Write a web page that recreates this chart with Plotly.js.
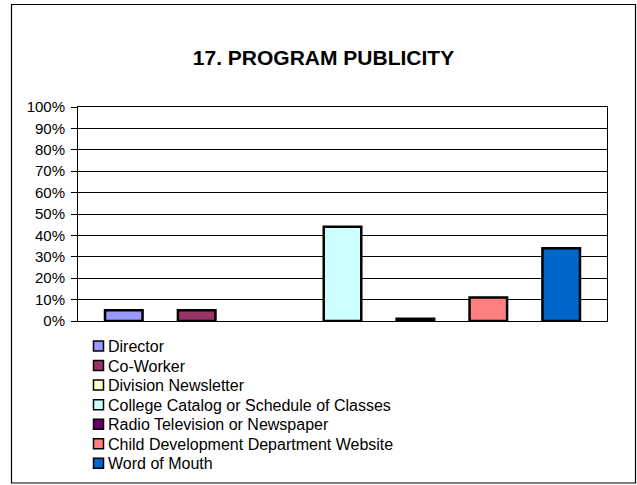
<!DOCTYPE html>
<html>
<head>
<meta charset="utf-8">
<script src="https://cdn.plot.ly/plotly-3.0.1.min.js"></script>
<style>
  html, body { margin: 0; padding: 0; background: #ffffff; }
  #chart { width: 637px; height: 485px; }
</style>
</head>
<body>
<div id="chart"></div>
<script>
// ---- data ----
const categories = [
  "Director",
  "Co-Worker",
  "Division Newsletter",
  "College Catalog or Schedule of Classes",
  "Radio Television or Newspaper",
  "Child Development Department Website",
  "Word of Mouth"
];
const values = [0.05, 0.05, 0.00, 0.44, 0.01, 0.11, 0.34];
const colors = ["#9999FF", "#993366", "#FFFFCC", "#CCFFFF", "#660066", "#FF8080", "#0066CC"];
const tickValues = [0, 0.1, 0.2, 0.3, 0.4, 0.5, 0.6, 0.7, 0.8, 0.9, 1.0];
const tickLabels = ["0%", "10%", "20%", "30%", "40%", "50%", "60%", "70%", "80%", "90%", "100%"];
const chartTitle = "17. PROGRAM PUBLICITY";

// ---- layout helpers (pixel -> paper) ----
const W = 637, H = 485;
const M = { l: 78, r: 30, t: 107, b: 164 };
const PW = W - M.l - M.r, PH = H - M.t - M.b;
const px2x = px => (px - M.l) / PW;
const py2y = py => (H - M.b - py) / PH;

const FONT = "Liberation Sans, Arial, sans-serif";

const traces = categories.map((c, i) => ({
  type: "bar",
  name: c,
  x: [c],
  y: [values[i]],
  width: 0.515,
  marker: { color: colors[i], line: { color: "#000000", width: values[i] > 0 ? 2.5 : 0 } },
  showlegend: false,
  hoverinfo: "skip"
}));

// custom legend (to match compact spacing of reference)
const shapes = [];
const annotations = [];
categories.forEach((c, i) => {
  const yc = 346 + i * 19.55;
  shapes.push({
    type: "rect", xref: "paper", yref: "paper",
    x0: px2x(93.5), x1: px2x(103.5), y0: py2y(yc + 5), y1: py2y(yc - 5),
    fillcolor: colors[i], line: { color: "#000000", width: 1.5 }
  });
  annotations.push({
    xref: "paper", yref: "paper",
    x: px2x(106), y: py2y(yc + 0.5),
    xanchor: "left", yanchor: "middle",
    text: c, showarrow: false,
    font: { family: FONT, size: 16, color: "#000000" }
  });
});
// outer chart border
shapes.push({
  type: "rect", xref: "paper", yref: "paper",
  x0: px2x(11.5), x1: px2x(635.5), y0: py2y(483), y1: py2y(4.5),
  fillcolor: "rgba(0,0,0,0)", line: { color: "#000000", width: 1.2 }
});

const layout = {
  width: W, height: H,
  margin: M,
  paper_bgcolor: "#ffffff",
  plot_bgcolor: "#ffffff",
  barmode: "overlay",
  showlegend: false,
  title: {
    text: "<b>" + chartTitle + "</b>",
    font: { family: FONT, size: 21, color: "#000000" },
    x: 323.5 / W, xanchor: "center",
    y: 1 - 58 / H, yanchor: "middle",
    xref: "container", yref: "container"
  },
  xaxis: {
    type: "category",
    range: [-0.628, 6.628],
    showticklabels: false,
    ticks: "",
    showgrid: false,
    zeroline: false,
    showline: true, linecolor: "#000000", linewidth: 1, mirror: true,
    fixedrange: true
  },
  yaxis: {
    range: [0, 1],
    tickvals: tickValues,
    ticktext: tickLabels,
    ticks: "outside", ticklen: 6, tickwidth: 1, tickcolor: "#000000",
    ticklabelstandoff: 3,
    tickfont: { family: FONT, size: 15, color: "#000000" },
    showgrid: true, gridcolor: "#000000", gridwidth: 1,
    zeroline: false,
    showline: true, linecolor: "#000000", linewidth: 1, mirror: true,
    fixedrange: true
  },
  shapes: shapes,
  annotations: annotations
};

Plotly.newPlot("chart", traces, layout, { staticPlot: true, displayModeBar: false });
</script>
</body>
</html>
